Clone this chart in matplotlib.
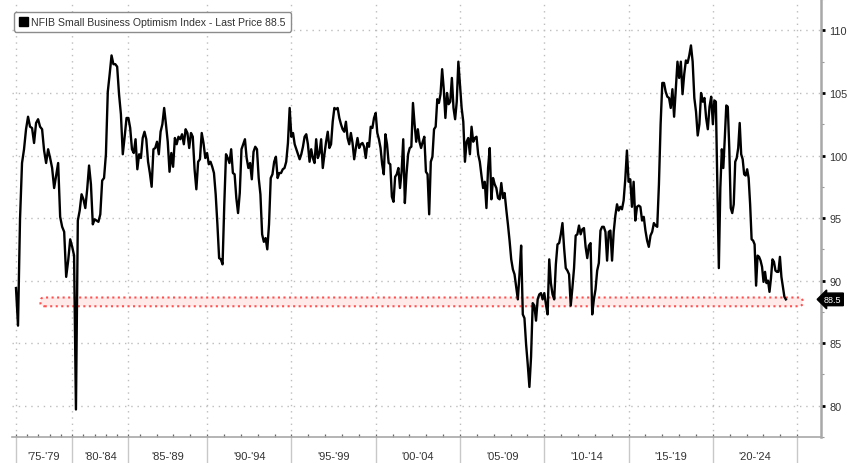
"""
NFIB small business optimism index, Bloomberg style chart
"""
import matplotlib.pyplot as plt
import numpy as np
from matplotlib.patches import Patch, FancyBboxPatch
from matplotlib.transforms import blended_transform_factory

# ---- data, one list per 5 year block ----
periods = ["'75-'79", "'80-'84", "'85-'89", "'90-'94", "'95-'99",
           "'00-'04", "'05-'09", "'10-'14", "'15-'19", "'20-'24"]
period_start = [1975, 1980, 1985, 1990, 1995, 2000, 2005, 2010, 2015, 2020]

v_75_79 = [89.4, 86.4, 94.9, 99.4, 100.5, 102.1, 103.1, 102.3, 102.2, 101.0,
           102.6, 102.9, 102.3, 102.1, 100.4, 99.4, 100.5, 99.8, 99.0, 97.4,
           98.4, 99.4, 95.1, 94.3, 93.9, 90.3, 91.6, 93.3]
v_80_84 = [92.7, 92.0, 79.7, 94.8, 95.6, 96.9, 96.5, 95.8, 97.3, 99.2,
           97.7, 94.5, 94.9, 94.8, 94.7, 95.3, 98.0, 98.2, 100.1, 105.1,
           106.5, 108.0, 107.3, 107.3, 107.1, 104.9, 103.3, 100.1, 101.5, 103.0]
v_85_89 = [103.0, 102.2, 100.5, 100.2, 101.3, 98.9, 100.1, 99.8, 101.4, 101.9,
           101.3, 99.5, 98.6, 97.5, 100.5, 100.6, 101.1, 100.1, 101.9, 102.5,
           103.8, 102.5, 101.1, 98.7, 100.2, 99.1, 101.4, 100.9, 101.5, 101.3,
           101.7, 100.9, 102.1, 101.8, 100.6, 101.8, 101.5, 98.9, 97.3, 99.5,
           99.7, 101.8, 101.0, 99.8]
v_90_94 = [100.2, 99.3, 99.5, 99.1, 98.6, 96.9, 94.5, 91.8, 91.7, 91.3,
           96.1, 100.1, 99.8, 99.4, 100.5, 98.6, 98.5, 96.6, 95.4, 97.0,
           100.5, 100.9, 101.3, 99.8, 99.0, 99.4, 98.1, 100.3, 100.7, 100.5,
           98.2, 96.9, 93.7, 93.1, 93.4, 92.5, 94.5, 98.2, 98.5, 99.5,
           99.9, 98.2, 98.6, 98.6, 98.9, 99.0, 99.5, 101.0, 103.8]
v_95_99 = [101.5, 101.8, 100.9, 100.5, 100.1, 99.7, 100.1, 100.7, 101.5, 101.7,
           100.9, 99.5, 100.5, 99.8, 99.4, 101.3, 99.8, 100.2, 101.3, 99.0,
           100.1, 101.1, 101.9, 100.6, 100.9, 102.7, 103.8, 103.7, 103.8, 103.0,
           102.5, 102.1, 101.9, 102.7, 101.4, 100.9, 101.8, 101.0, 99.7, 100.6,
           101.4, 100.6, 100.9, 101.0, 100.7, 99.8, 101.0, 100.7, 102.3, 102.2,
           103.0]
v_00_04 = [103.4, 101.8, 101.3, 100.6, 99.3, 98.5, 101.7, 100.9, 99.4, 99.3,
           96.7, 96.3, 98.3, 98.5, 99.0, 97.4, 98.7, 101.3, 96.2, 98.5,
           100.1, 100.6, 100.7, 104.2, 102.5, 101.1, 102.1, 101.1, 100.6, 101.1,
           101.5, 98.7, 98.5, 95.3, 99.5, 99.9, 102.1, 102.3, 104.5, 104.2,
           104.9, 106.9, 105.3, 103.0, 105.0, 104.1, 104.3, 106.2, 103.8, 102.9,
           104.3, 107.5]
v_05_09 = [105.7, 103.8, 102.7, 99.5, 101.1, 101.4, 100.1, 102.3, 101.1, 101.4,
           101.5, 100.1, 99.5, 98.4, 97.4, 97.9, 95.8, 99.0, 100.6, 96.5,
           98.2, 97.7, 97.4, 96.6, 96.5, 97.8, 96.6, 97.0, 95.7, 94.5,
           93.2, 91.7, 90.9, 90.5, 89.5, 88.5, 90.5, 92.8, 87.3, 87.0,
           84.9, 83.3, 81.5, 83.9, 88.2, 88.0, 86.8, 88.5, 88.9, 89.0,
           88.5]
v_10_14 = [89.0, 88.1, 87.3, 91.7, 89.8, 88.9, 88.5, 91.3, 92.9, 93.0,
           93.7, 94.6, 92.6, 91.0, 90.8, 90.5, 88.0, 89.4, 91.0, 93.6,
           93.7, 94.4, 93.7, 94.1, 94.2, 92.7, 91.8, 92.8, 93.0, 87.3,
           88.5, 89.3, 90.8, 91.4, 94.0, 94.3, 94.3, 93.9, 91.6, 93.9,
           94.0, 91.6, 93.9, 95.2, 96.1, 95.6, 95.9, 95.7, 96.4, 98.1,
           100.4]
v_15_19 = [97.9, 98.1, 95.9, 97.9, 94.8, 95.9, 96.0, 95.9, 94.8, 95.1,
           94.0, 93.2, 92.7, 93.6, 93.9, 94.6, 94.4, 94.3, 97.7, 102.5,
           105.8, 105.8, 105.1, 104.7, 104.6, 103.8, 105.3, 103.1, 105.3, 107.5,
           106.2, 107.5, 104.9, 106.5, 107.6, 107.4, 108.0, 108.8, 107.5, 104.6,
           103.5, 101.6, 102.5, 105.0, 104.3, 104.6, 103.0, 102.1, 103.9, 104.7]
v_20_24 = [102.5, 104.4, 104.3, 97.4, 91.0, 97.4, 100.5, 99.0, 101.4, 104.0,
           103.9, 100.6, 95.8, 95.4, 96.1, 99.5, 99.8, 100.6, 102.6, 100.1,
           99.7, 98.5, 98.4, 98.9, 98.2, 96.1, 93.3, 93.2, 92.9, 89.6,
           92.0, 91.9, 91.6, 91.1, 89.9, 90.7, 89.8, 90.0, 89.1, 90.2,
           91.7, 91.5, 90.8, 90.7, 90.7, 91.9, 90.3, 89.5, 88.7, 88.5]

blocks = [v_75_79, v_80_84, v_85_89, v_90_94, v_95_99,
          v_00_04, v_05_09, v_10_14, v_15_19, v_20_24]
last_obs = 2024.33
last_price = v_20_24[-1]


def year_weight(year):
    """quarterly years (up to 1985) are squeezed to 2/3 width on the bloomberg axis"""
    return 2 / 3 if year <= 1985 else 1.0


# x axis in "squeezed years" from start of 1975
years = np.arange(1975, 2026)
year_pos = np.concatenate([[0], np.cumsum([year_weight(y) for y in years[:-1]])])
edges = [year_pos[y - 1975] for y in period_start] + [year_pos[2025 - 1975]]

xs, ys = [], []
for k, vals in enumerate(blocks):
    n = len(vals)
    width = edges[k + 1] - edges[k]
    if k == len(blocks) - 1:
        span = width * (last_obs - period_start[k]) / 5
        pos = edges[k] + span * np.arange(n) / (n - 1)
    else:
        pos = edges[k] + width * np.arange(n) / n
    xs.extend(pos)
    ys.extend(vals)

# ---- figure ----
W, H = 848, 464
fig = plt.figure(figsize=(W / 100, H / 100), dpi=100)
plt.rcParams["font.family"] = ["Liberation Sans", "DejaVu Sans"]

px = 16.86  # pixels per squeezed year
x0 = -4 / px
x1 = (821 - 16) / px
ax = fig.add_axes([12 / W, 26 / H, 809 / W, 438 / H])
ax.set_xlim(x0, x1)
ax.set_ylim(77.86, 112.51)

ax.plot(xs, ys, color="black", lw=1.7, solid_joinstyle="round", zorder=3)

# last price band
band = FancyBboxPatch((1.5, last_price - 0.5), 45.1, 0.6,
                      boxstyle="round,pad=0.05,rounding_size=0.25",
                      mutation_aspect=1, fc="#ffeaea", ec="#ff5050",
                      lw=1.5, ls=":", zorder=2)
ax.add_patch(band)

# grid
for e in edges:
    ax.axvline(e, color="#bdbdbd", lw=1.0, ls=(0, (1, 3.5)), zorder=1)
for v in range(80, 111, 5):
    ax.axhline(v, color="#bdbdbd", lw=1.0, ls=(0, (1, 3.5)), zorder=1)

# spines
for s in ["top", "left"]:
    ax.spines[s].set_visible(False)
ax.spines["right"].set_color("#a8a8a8")
ax.spines["right"].set_linewidth(1.8)
ax.spines["bottom"].set_color("#a8a8a8")
ax.spines["bottom"].set_linewidth(1.2)

# y axis on the right
ax.yaxis.tick_right()
ax.set_yticks(range(80, 111, 5))
ax.set_yticks(np.arange(77.5, 112.6, 2.5), minor=True)
ax.tick_params(axis="y", which="major", direction="out", length=3, width=2,
               color="black", labelsize=7.8, labelcolor="#333333", pad=3)
ax.tick_params(axis="y", which="minor", direction="out", length=2, width=0.8,
               color="#999999")

# x axis: labels centred in blocks, long grey separators at block edges
centers = [(edges[k] + edges[k + 1]) / 2 for k in range(len(periods))]
ax.set_xticks(centers)
ax.set_xticklabels(periods)
ax.set_xticks(edges, minor=True)
ax.tick_params(axis="x", which="major", length=0, pad=10, labelsize=8,
               labelcolor="#333333")
ax.tick_params(axis="x", which="minor", direction="out", length=20, width=1,
               color="#c8c8c8")

yr = ax.secondary_xaxis("bottom")
yr.set_xticks(year_pos)
yr.set_xticklabels([])
yr.tick_params(direction="in", length=2.5, width=0.9, color="#666666")
yr.spines["bottom"].set_visible(False)

# last price tag on the axis
trans = blended_transform_factory(ax.transAxes, ax.transData)
ax.text(1.0 + 3 / 809, last_price, "88.5", transform=trans, ha="left",
        va="center", fontsize=6.5, color="white", clip_on=False,
        bbox=dict(boxstyle="larrow,pad=0.2", fc="black", ec="black"))

# legend
leg = ax.legend(handles=[Patch(fc="black", ec="black")],
                labels=["NFIB Small Business Optimism Index - Last Price 88.5"],
                loc="upper left", bbox_to_anchor=(14 / W, 1 - 13 / H),
                bbox_transform=fig.transFigure, fontsize=7.6, frameon=True,
                fancybox=True, edgecolor="#8c8c8c", framealpha=1,
                handlelength=0.9, handleheight=0.9, handletextpad=0.3,
                borderpad=0.45, borderaxespad=0)
leg.get_frame().set_linewidth(1.0)
for t in leg.get_texts():
    t.set_color("#333333")

fig.savefig("out.png", dpi=100, facecolor="white")
